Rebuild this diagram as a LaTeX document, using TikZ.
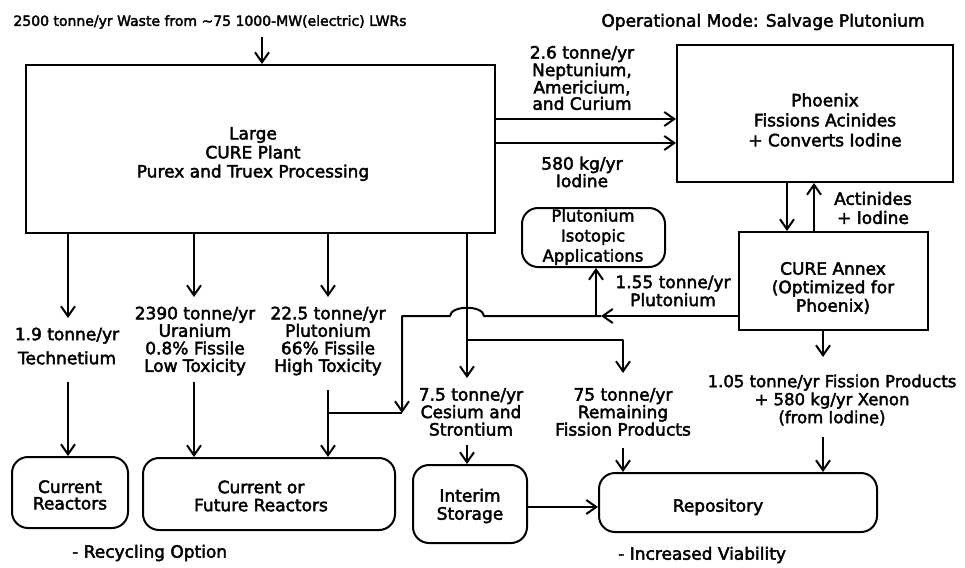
\documentclass[tikz,border=0pt]{standalone}
\usepackage{fontspec}
\setmainfont{DejaVu Sans}[FakeBold=2.5]
\usetikzlibrary{arrows.meta}
\tikzset{
  ln/.style={line width=2pt, line join=round},
  arr/.style={ln, -{Straight Barb[length=10pt,width=14pt,line width=2pt]}},
  box/.style={draw, line width=2pt, inner sep=0pt},
  rbox/.style={box, rounded corners=16pt},
  txt/.style={align=center, font=\fontsize{17}{19}\selectfont, inner sep=0pt},
  lbl/.style={align=center, font=\fontsize{17}{17.5}\selectfont, inner sep=0pt},
}
\begin{document}
\begin{tikzpicture}[x=1pt,y=-1pt]
\useasboundingbox (0,0) rectangle (965,567);
\fill[white] (0,0) rectangle (965,567);

% headings
\node[font=\fontsize{14}{16}\selectfont, inner sep=0pt] (top) at (210,22) {2500 tonne/yr Waste from \textasciitilde75 1000-MW(electric) LWRs};
\node[font=\fontsize{17}{19}\selectfont, inner sep=0pt] (mode) at (763,22) {Operational Mode: Salvage Plutonium};

% boxes
\node[box, minimum width=469pt, minimum height=168pt] (cure) at (260.5,149) {};
\node[txt] (curet) at (253,154) {Large\\CURE Plant\\Purex and Truex Processing};

\node[box, minimum width=276pt, minimum height=137pt] (phx) at (815,113.5) {};
\node[txt, font=\fontsize{17}{20}\selectfont] (phxt) at (825,120) {Phoenix\\Fissions Acinides\\+ Converts Iodine};

\node[box, minimum width=189pt, minimum height=98pt] (annex) at (833.5,281) {};
\node[txt, font=\fontsize{17}{18.5}\selectfont] (annext) at (833,288) {CURE Annex\\(Optimized for\\Phoenix)};

\node[rbox, minimum width=143pt, minimum height=59pt] (puapp) at (593.5,237.5) {};
\node[txt, font=\fontsize{16.5}{20}\selectfont] (puappt) at (593,237) {Plutonium\\Isotopic\\Applications};

\node[rbox, minimum width=116pt, minimum height=71pt] (curR) at (70,492.5) {};
\node[txt, font=\fontsize{17}{16.5}\selectfont] (curRt) at (70,495) {Current\\Reactors};

\node[rbox, minimum width=252pt, minimum height=72pt] (cof) at (269,494) {};
\node[txt, font=\fontsize{17}{18}\selectfont] (coft) at (261,496) {Current or\\Future Reactors};

\node[rbox, minimum width=114pt, minimum height=78pt] (interim) at (470,504) {};
\node[txt, font=\fontsize{17}{18}\selectfont] (interimt) at (470,506) {Interim\\Storage};

\node[rbox, minimum width=278pt, minimum height=59pt] (repo) at (738,502.5) {};
\node[txt] (repot) at (718,507) {Repository};

% labels
\node[lbl, font=\fontsize{17}{16.3}\selectfont] (l26) at (582,78) {2.6 tonne/yr\\Neptunium,\\Americium,\\and Curium};
\node[lbl, font=\fontsize{17}{16.3}\selectfont] (l580) at (582,172) {580 kg/yr\\Iodine};
\node[lbl, font=\fontsize{17}{19}\selectfont] (lact) at (873,208) {Actinides\\+ Iodine};
\node[lbl, font=\fontsize{17}{18}\selectfont] (l155) at (673,291) {1.55 tonne/yr\\Plutonium};
\node[lbl, font=\fontsize{16.5}{18}\selectfont] (l105) at (832,400) {1.05 tonne/yr Fission Products\\+ 580 kg/yr Xenon\\(from Iodine)};
\node[lbl, font=\fontsize{17}{24}\selectfont] (l19) at (67,346) {1.9 tonne/yr\\Technetium};
\node[lbl] (l2390) at (195,341) {2390 tonne/yr\\Uranium\\0.8\% Fissile\\Low Toxicity};
\node[lbl] (l225) at (328,341) {22.5 tonne/yr\\Plutonium\\66\% Fissile\\High Toxicity};
\node[lbl] (lcs) at (471,412) {7.5 tonne/yr\\Cesium and\\Strontium};
\node[lbl] (lfp) at (623,412) {75 tonne/yr\\Remaining\\Fission Products};

\node[lbl, anchor=west] (fn1) at (72,553) {- Recycling Option};
\node[lbl, anchor=west] (fn2) at (618,555) {- Increased Viability};

% connectors
\coordinate (inA) at (262,37);
\draw[arr] (inA) -- (inA |- cure.north);
\draw[arr] (cure.east |- 0,119) -- (phx.west |- 0,119);
\draw[arr] (cure.east |- 0,143) -- (phx.west |- 0,143);
\draw[arr] (phx.south -| 787,0) -- (annex.north -| 787,0);
\draw[arr] (annex.north -| 814,0) -- (phx.south -| 814,0);

\coordinate (fpA) at (823,357);
\coordinate (fpB) at (823,437);
\draw[arr] (annex.south -| fpA) -- (fpA);
\draw[arr] (fpB) -- (fpB |- repo.north);

\coordinate (tcA) at (68,318);
\coordinate (tcB) at (68,382);
\draw[arr] (cure.south -| tcA) -- (tcA);
\draw[arr] (tcB) -- (tcB |- curR.north);

\coordinate (uA) at (194,297);
\coordinate (uB) at (194,382);
\draw[arr] (cure.south -| uA) -- (uA);
\draw[arr] (uB) -- (uB |- cof.north);

\coordinate (pA) at (328,297);
\coordinate (pB) at (328,390);
\draw[arr] (cure.south -| pA) -- (pA);
\draw[arr] (pB) -- (pB |- cof.north);

\coordinate (csA) at (467,378);
\coordinate (br) at (467,340);
\coordinate (fpC) at (623,373);
\draw[arr] (cure.south -| csA) -- (csA);
\draw[arr] (br) -- (br -| fpC) -- (fpC);
\coordinate (csB) at (467,445);
\coordinate (fpD) at (623,448);
\draw[arr] (csB) -- (csB |- interim.north);
\draw[arr] (fpD) -- (fpD |- repo.north);

\draw[arr] (interim.east |- 0,507) -- (repo.west |- 0,507);

% plutonium return line from annex
\coordinate (puj) at (596,316);
\coordinate (putip) at (601,316);
\coordinate (pucorner) at (402,316);
\coordinate (pudown) at (402,413);
\draw[arr] (annex.west |- puj) -- (putip);
\draw[arr] (puj) -- (puj |- puapp.south);
\draw[arr] (putip) -- (484,316) .. controls (483,305) and (451,305) .. (450,316) -- (pucorner) -- (pudown);
\draw[ln] (pudown) -- (pudown -| pB);
\end{tikzpicture}
\end{document}
